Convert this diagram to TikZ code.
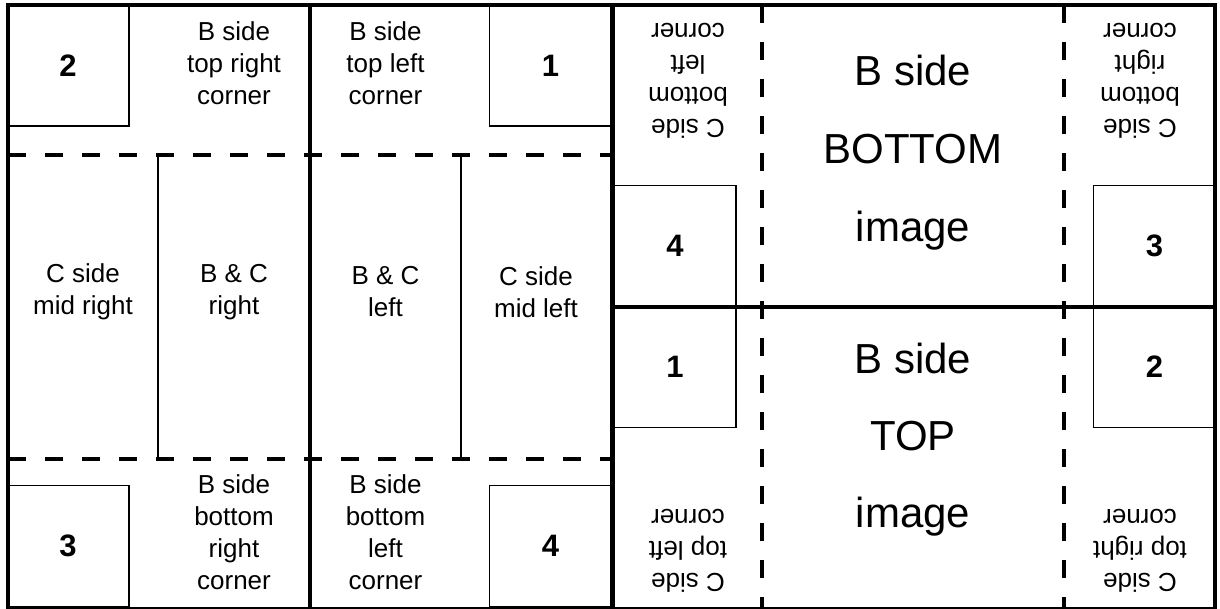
\documentclass[tikz,border=0pt]{standalone}
\usepackage{fontspec}
\setmainfont{Liberation Sans}
\usetikzlibrary{positioning}

\tikzstyle{numbox} = [rectangle, draw=black, line width=1.3pt, minimum width=122pt,
minimum height=121pt, inner sep=0pt, font=\fontsize{31}{31}\selectfont\bfseries]
\tikzstyle{sidetext} = [align=center, inner sep=0pt, font=\fontsize{26}{32}\selectfont]
\tikzstyle{flipped} = [sidetext, rotate=180]
\tikzstyle{bigtext} = [anchor=base, inner sep=0pt, font=\fontsize{42}{42}\selectfont]
\tikzstyle{frame} = [line width=4pt]
\tikzstyle{fold} = [line width=4.5pt, dash pattern=on 18pt off 19pt]
\tikzstyle{crease} = [line width=1.3pt]

\begin{document}
\begin{tikzpicture}[x=1pt, y=-1pt]
    \useasboundingbox (0,0) rectangle (1220,608);
    % Corner number boxes, B side
    \node (LTwo) [numbox] at (68,65.5) {2};
    \node (LOne) [numbox] at (550.5,65.5) {1};
    \node (LThree) [numbox] at (68,546) {3};
    \node (LFour) [numbox] at (550.5,546) {4};
    % Corner number boxes, image side
    \node (RFour) [numbox] at (675,246) {4};
    \node (RThree) [numbox] at (1154.5,246) {3};
    \node (ROne) [numbox] at (675,367) {1};
    \node (RTwo) [numbox] at (1154.5,367) {2};
    % Folds and creases
    \draw [fold] (8,155) -- (612,155);
    \draw [fold] (8,459) -- (612,459);
    \draw [crease] (158,155) -- (158,459);
    \draw [crease] (461,155) -- (461,459);
    \draw [fold] (762,5) -- (762,609);
    \draw [fold] (1064,5) -- (1064,609);
    % B side texts
    \node (BTopRight) [sidetext] at (234,63) {B side\\top right\\corner};
    \node (BTopLeft) [sidetext] at (385.5,63) {B side\\top left\\corner};
    \node (CMidRight) [sidetext] at (83,292) {C side\\mid right};
    \node (BCRight) [sidetext] at (234,292) {B \& C\\right};
    \node (BCLeft) [sidetext] at (385.5,292) {B \& C\\left};
    \node (CMidLeft) [sidetext] at (536,292) {C side\\mid left};
    \node (BBotRight) [sidetext] at (234,532) {B side\\bottom\\right\\corner};
    \node (BBotLeft) [sidetext] at (385.5,532) {B side\\bottom\\left\\corner};
    % C side texts, upside down
    \node (CBotLeft) [flipped] at (688,80.5) {C side\\bottom\\left\\corner};
    \node (CBotRight) [flipped] at (1140,81) {C side\\bottom\\right\\corner};
    \node (CTopLeft) [flipped] at (688,551) {C side\\top left\\corner};
    \node (CTopRight) [flipped] at (1140,551) {C side\\top right\\corner};
    % Image panels
    \node (BotSide) [bigtext] at (913,85) {B side};
    \node (BotName) [bigtext] at (913,163) {BOTTOM};
    \node (BotImage) [bigtext] at (913,241) {image};
    \node (TopSide) [bigtext] at (913,373) {B side};
    \node (TopName) [bigtext] at (913,450) {TOP};
    \node (TopImage) [bigtext] at (913,527) {image};
    % Outer frames
    \draw [frame] (8,5) rectangle (310,609);
    \draw [frame] (310,5) rectangle (612,609);
    \draw [frame] (613,5) rectangle (1215,307);
    \draw [frame] (613,307) rectangle (1215,609);
\end{tikzpicture}
\end{document}
